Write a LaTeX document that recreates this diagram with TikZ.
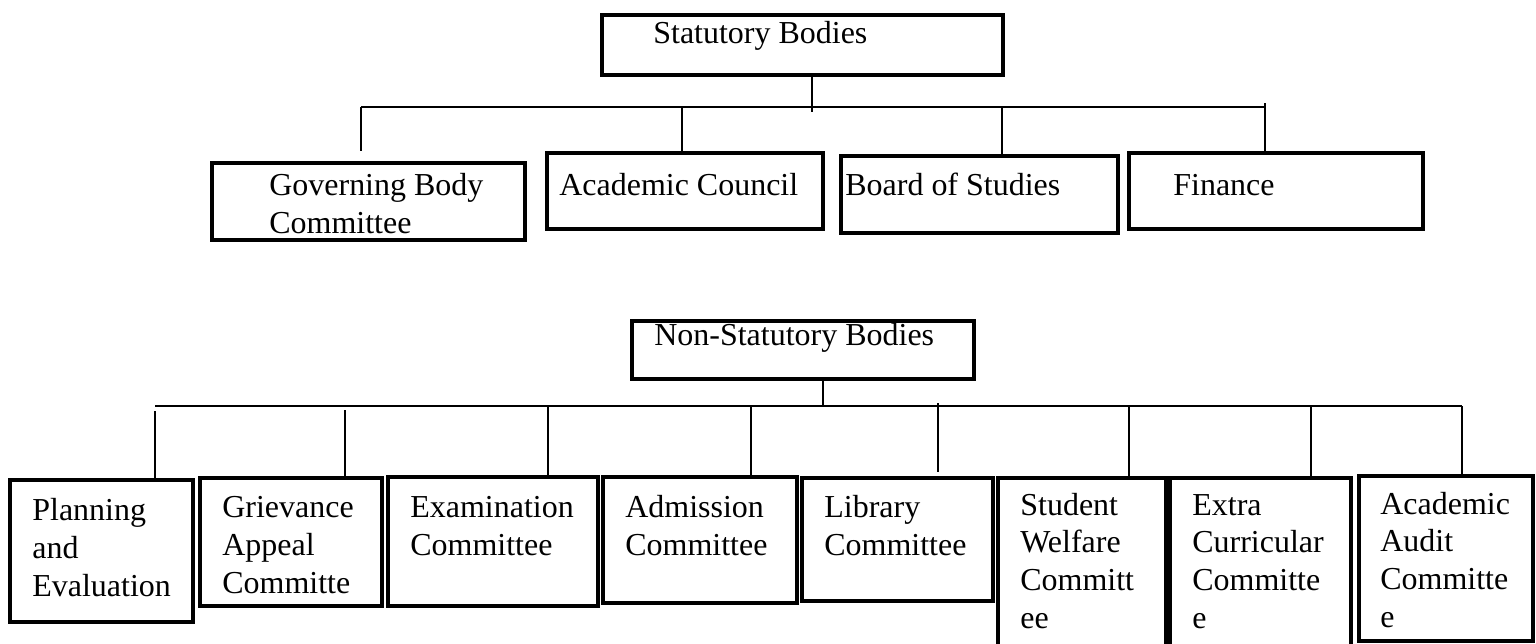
\documentclass[tikz,border=0pt]{standalone}
\usepackage{fontspec}
\setmainfont{Liberation Serif}
\usetikzlibrary{fit}
\tikzset{
  bodybox/.style={draw, line width=1.8pt, inner sep=0pt},
  bodytext/.style={anchor=base west, inner sep=0pt, align=left, font=\fontsize{18.2}{21.4}\selectfont},
  wire/.style={line width=1pt},
}
\begin{document}
\begin{tikzpicture}[x=0.02cm, y=-0.02cm]
        \useasboundingbox (0,0) rectangle (1536,643);
        \node[bodybox, fit={(602,15) (1003,75)}] (sb) {};
        \node[bodytext] (sb-t) at (653,43) {Statutory Bodies};
        \node[bodybox, fit={(212,163) (525,240)}] (gb) {};
        \node[bodytext] (gb-t) at (269,233) {Governing Body\\Committee};
        \node[bodybox, fit={(547,153) (823,229)}] (ac) {};
        \node[bodytext] (ac-t) at (559,195) {Academic Council};
        \node[bodybox, fit={(841,156) (1118,233)}] (bs) {};
        \node[bodytext] (bs-t) at (845,195) {Board of Studies};
        \node[bodybox, fit={(1129,153) (1423,229)}] (fin) {};
        \node[bodytext] (fin-t) at (1173,195) {Finance};
        \coordinate (j-sb) at (812,107);
        \coordinate (j-gb) at (361,107);
        \coordinate (j-ac) at (682,107);
        \coordinate (j-bs) at (1002,107);
        \coordinate (j-fin) at (1265,107);
        \draw[wire, shorten >=-0.1cm] (sb.south -| j-sb) -- (j-sb);
        \draw[wire] (j-gb) -- (j-fin);
        \draw[wire, shorten >=0.2cm] (j-gb) -- (j-gb |- gb.north);
        \draw[wire] (j-ac) -- (j-ac |- ac.north);
        \draw[wire] (j-bs) -- (j-bs |- bs.north);
        \draw[wire, shorten <=-0.08cm, shorten >=-0.08cm] (j-fin) -- (j-fin |- fin.north);

        \node[bodybox, fit={(632,321) (974,379)}] (nsb) {};
        \node[bodytext] (nsb-t) at (654,345) {Non-Statutory Bodies};
        \node[bodybox, fit={(10,480) (193,622)}] (pe) {};
        \node[bodytext] (pe-t) at (32,596) {Planning\\and\\Evaluation};
        \node[bodybox, fit={(200,478) (382,606)}] (gac) {};
        \node[bodytext] (gac-t) at (222,593) {Grievance\\Appeal\\Committe};
        \node[bodybox, fit={(388,477) (598,606)}] (ex) {};
        \node[bodytext] (ex-t) at (410,555) {Examination\\Committee};
        \node[bodybox, fit={(603,477) (797,603)}] (adm) {};
        \node[bodytext] (adm-t) at (625,555) {Admission\\Committee};
        \node[bodybox, fit={(802,478) (993,601)}] (lib) {};
        \node[bodytext] (lib-t) at (824,555) {Library\\Committee};
        \node[bodybox, fit={(998,478) (1166,665)}] (sw) {};
        \node[bodytext] (sw-t) at (1020,628) {Student\\Welfare\\Committ\\ee};
        \node[bodybox, fit={(1170,478) (1351,665)}] (ec) {};
        \node[bodytext] (ec-t) at (1192,628) {Extra\\Curricular\\Committe\\e};
        \node[bodybox, fit={(1359,476) (1533,641)}] (aa) {};
        \node[bodytext] (aa-t) at (1380,627) {Academic\\Audit\\Committe\\e};
        \coordinate (j-nsb) at (823,406);
        \coordinate (j-pe) at (155,406);
        \coordinate (j-gac) at (345,406);
        \coordinate (j-ex) at (548,406);
        \coordinate (j-adm) at (751,406);
        \coordinate (j-lib) at (938,406);
        \coordinate (j-sw) at (1129,406);
        \coordinate (j-ec) at (1311,406);
        \coordinate (j-aa) at (1462,406);
        \draw[wire] (nsb.south -| j-nsb) -- (j-nsb);
        \draw[wire] (j-pe) -- (j-aa);
        \draw[wire, shorten <=0.1cm] (j-pe) -- (j-pe |- pe.north);
        \draw[wire, shorten <=0.08cm] (j-gac) -- (j-gac |- gac.north);
        \draw[wire] (j-ex) -- (j-ex |- ex.north);
        \draw[wire] (j-adm) -- (j-adm |- adm.north);
        \draw[wire, shorten <=-0.06cm, shorten >=0.08cm] (j-lib) -- (j-lib |- lib.north);
        \draw[wire] (j-sw) -- (j-sw |- sw.north);
        \draw[wire] (j-ec) -- (j-ec |- ec.north);
        \draw[wire] (j-aa) -- (j-aa |- aa.north);
\end{tikzpicture}
\end{document}
